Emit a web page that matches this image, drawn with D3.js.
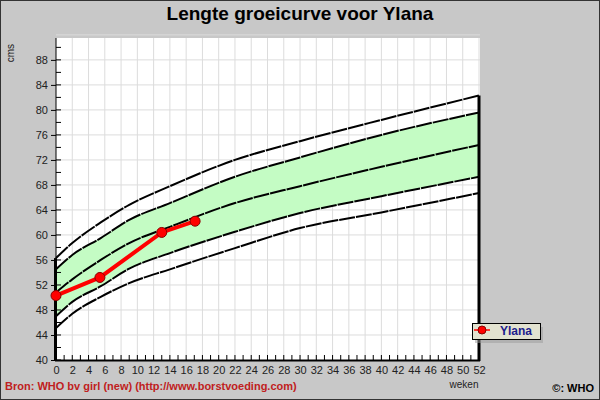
<!DOCTYPE html>
<html><head><meta charset="utf-8">
<script src="https://cdn.jsdelivr.net/npm/d3@7"></script>
<style>body{margin:0;background:#c8c8c8}svg{display:block}text{font-family:"Liberation Sans",Arial,sans-serif}</style>
</head><body><svg id="chart" width="600" height="400"></svg>
<script>
// percentile curves (weeks vs cm)
const weeks = [0, 2, 5.5, 9, 14, 22, 30, 40, 52];
const sd3Upper = [56.3, 58.7, 62.0, 64.8, 67.8, 72.0, 75.0, 78.4, 82.3];
const sd2Upper = [54.5, 56.8, 59.5, 62.4, 65.1, 69.3, 72.4, 76.0, 79.6];
const median = [50.8, 52.9, 56.0, 58.7, 61.3, 65.1, 67.8, 70.9, 74.4];
const sd2Lower = [47.0, 49.3, 51.8, 54.6, 57.1, 60.5, 63.5, 66.2, 69.3];
const sd3Lower = [45.1, 47.4, 50.1, 52.3, 54.5, 57.9, 61.1, 63.6, 66.7];
const childWeeks = [0, 5.4, 13, 17.1];
const childLength = [50.3, 53.2, 60.4, 62.2];
const yTicks = d3.range(40, 89, 4);
const xTicks = d3.range(0, 53, 2);

const svg = d3.select('#chart');
const x = d3.scaleLinear().domain([0, 52]).range([56, 479]);
const y = d3.scaleLinear().domain([40, 91.5]).range([360, 38]);

svg.append('rect').attr('x', 0.5).attr('y', 0.5).attr('width', 599).attr('height', 399)
    .attr('fill', '#c8c8c8').attr('stroke', '#333');
svg.append('rect').attr('x', 56).attr('y', 38).attr('width', 424).attr('height', 322).attr('fill', '#fff');

// grid
svg.append('g').selectAll('line').data(xTicks.slice(1)).join('line')
    .attr('x1', d => x(d)).attr('x2', d => x(d)).attr('y1', 38).attr('y2', 360)
    .attr('stroke', '#dcdcdc');
svg.append('g').selectAll('line').data(yTicks.slice(1).concat([92])).join('line')
    .attr('x1', 56).attr('x2', 480).attr('y1', d => y(d)).attr('y2', d => y(d))
    .attr('stroke', '#dcdcdc');

// green band
const area = d3.area().x((d, i) => x(weeks[i])).y0((d, i) => y(sd2Lower[i])).y1(d => y(d)).curve(d3.curveMonotoneX);
svg.append('path').datum(sd2Upper).attr('d', area).attr('fill', '#c4fcc4');

const line = d3.line().x((d, i) => x(weeks[i])).y(d => y(d)).curve(d3.curveMonotoneX);
[sd3Upper, sd2Upper, median, sd2Lower, sd3Lower].forEach(s => {
    svg.append('path').datum(s).attr('d', line).attr('fill', 'none')
        .attr('stroke', '#000').attr('stroke-width', 2).attr('stroke-dasharray', '16,1');
});

// axes
const yAxis = svg.append('g').attr('transform', 'translate(56,0)')
    .call(d3.axisLeft(y).tickValues(yTicks).tickSize(5).tickFormat(d3.format('d')));
yAxis.select('.domain').remove();
yAxis.selectAll('text').attr('font-size', 11).attr('fill', '#222');
svg.append('g').selectAll('line').data(d3.range(40, 92, 2)).join('line')
    .attr('x1', 56).attr('x2', 61).attr('y1', d => y(d)).attr('y2', d => y(d)).attr('stroke', '#000');
svg.append('line').attr('x1', 56).attr('x2', 56).attr('y1', 38).attr('y2', 360).attr('stroke', '#000');
svg.append('line').attr('x1', 55.5).attr('x2', 55.5).attr('y1', y(sd3Upper[0])).attr('y2', 361).attr('stroke', '#000').attr('stroke-width', 3);
svg.append('line').attr('x1', 479).attr('x2', 479).attr('y1', y(sd3Upper[sd3Upper.length - 1])).attr('y2', 361).attr('stroke', '#000').attr('stroke-width', 3);

const xAxis = svg.append('g').attr('transform', 'translate(0,360)')
    .call(d3.axisBottom(x).tickValues(xTicks).tickSize(0).tickPadding(6).tickFormat(d3.format('d')));
xAxis.select('.domain').remove();
xAxis.selectAll('text').attr('font-size', 11).attr('fill', '#222');
svg.append('g').selectAll('line').data(d3.range(0, 53)).join('line')
    .attr('x1', d => x(d)).attr('x2', d => x(d)).attr('y1', 360).attr('y2', 355).attr('stroke', '#000');
svg.append('line').attr('x1', 55).attr('x2', 480).attr('y1', 360.5).attr('y2', 360.5).attr('stroke', '#000').attr('stroke-width', 2);

svg.append('text').attr('transform', 'translate(14,44) rotate(-90)').attr('text-anchor', 'end')
    .attr('font-size', 10).attr('fill', '#222').text('cms');
svg.append('text').attr('x', 464).attr('y', 388).attr('text-anchor', 'middle')
    .attr('font-size', 10).attr('fill', '#222').text('weken');

// child data
svg.append('path').datum(childLength)
    .attr('d', d3.line().x((d, i) => x(childWeeks[i])).y(d => y(d)))
    .attr('fill', 'none').attr('stroke', '#f00').attr('stroke-width', 4);
svg.append('g').selectAll('circle').data(childLength).join('circle')
    .attr('cx', (d, i) => x(childWeeks[i])).attr('cy', d => y(d)).attr('r', 5)
    .attr('fill', '#f00').attr('stroke', '#800').attr('stroke-width', 1);

// legend
svg.append('rect').attr('x', 475).attr('y', 327).attr('width', 68).attr('height', 16).attr('fill', '#999').attr('opacity', 0.5);
svg.append('rect').attr('x', 472.5).attr('y', 323.5).attr('width', 68).attr('height', 16).attr('fill', '#e2e2d0').attr('stroke', '#000');
svg.append('line').attr('x1', 474).attr('x2', 490).attr('y1', 330).attr('y2', 330).attr('stroke', '#f00').attr('stroke-width', 1.5);
svg.append('circle').attr('cx', 482).attr('cy', 330).attr('r', 4).attr('fill', '#f00').attr('stroke', '#800');
svg.append('text').attr('x', 500).attr('y', 335).attr('font-size', 12).attr('font-weight', 'bold')
    .attr('fill', '#1c1c8c').text('Ylana');

svg.append('text').attr('x', 300).attr('y', 20).attr('text-anchor', 'middle')
    .attr('font-size', 19).attr('font-weight', 'bold').attr('fill', '#000').text('Lengte groeicurve voor Ylana');
svg.append('text').attr('x', 5).attr('y', 390).attr('font-size', 11).attr('font-weight', 'bold')
    .attr('fill', '#c02020').text('Bron: WHO bv girl (new) (http://www.borstvoeding.com)');
svg.append('text').attr('x', 594).attr('y', 392).attr('text-anchor', 'end').attr('font-size', 11)
    .attr('font-weight', 'bold').attr('fill', '#000').text('©: WHO');
</script></body></html>
